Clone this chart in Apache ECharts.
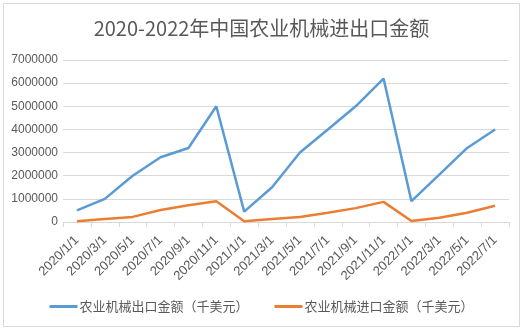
<!DOCTYPE html>
<html>
<head>
<meta charset="utf-8">
<script src="https://cdn.jsdelivr.net/npm/echarts@6/dist/echarts.min.js"></script>
<style>
html,body{margin:0;padding:0;background:#fff;}
#chart{width:523px;height:330px;}
</style>
</head>
<body>
<div id="chart"></div>
<script>
var categories = ['2020/1/1','2020/3/1','2020/5/1','2020/7/1','2020/9/1','2020/11/1',
  '2021/1/1','2021/3/1','2021/5/1','2021/7/1','2021/9/1','2021/11/1',
  '2022/1/1','2022/3/1','2022/5/1','2022/7/1'];
var exportValues = [500000,1000000,2000000,2800000,3200000,5000000,
  450000,1500000,3000000,4000000,5000000,6200000,
  900000,2050000,3200000,4000000];
var importValues = [30000,130000,220000,520000,720000,900000,
  30000,130000,220000,400000,600000,870000,
  40000,180000,400000,700000];
var seriesNames = ['农业机械出口金额（千美元）','农业机械进口金额（千美元）'];
var titleText = '2020-2022年中国农业机械进出口金额';

var chart = echarts.init(document.getElementById('chart'));
var textColor = '#595959';
var cjk = '"Noto Sans CJK SC", "Liberation Sans", sans-serif';
chart.setOption({
  animation: false,
  backgroundColor: '#fff',
  graphic: [{
    type: 'rect', shape: {x: 3.5, y: 3.5, width: 516, height: 323},
    style: {fill: 'none', stroke: '#d9d9d9', lineWidth: 1}, silent: true
  }],
  title: {
    text: titleText, left: 'center', top: 13,
    textStyle: {fontSize: 20, fontWeight: 'normal', color: textColor, fontFamily: cjk}
  },
  legend: {
    bottom: 12, left: 'center', itemGap: 26, itemWidth: 28, itemHeight: 3,
    icon: 'rect',
    textStyle: {fontSize: 13, color: textColor, fontFamily: cjk, padding: [0,0,0,-3]},
    data: seriesNames
  },
  grid: {left: 63, right: 14, top: 60, bottom: 108, containLabel: false},
  xAxis: {
    type: 'category', data: categories, boundaryGap: true,
    axisLine: {lineStyle: {color: '#d9d9d9'}},
    axisTick: {show: true, lineStyle: {color: '#d9d9d9'}, length: 5},
    axisLabel: {rotate: 45, interval: 0, fontSize: 13, color: textColor, margin: 16,
      fontFamily: '"Liberation Sans", sans-serif'}
  },
  yAxis: {
    type: 'value', min: 0, max: 7000000, interval: 1000000,
    axisLine: {show: false}, axisTick: {show: false},
    splitLine: {lineStyle: {color: '#d9d9d9'}},
    axisLabel: {fontSize: 12, color: textColor, margin: 5,
      formatter: function (v) { return String(v); },
      fontFamily: '"Liberation Sans", sans-serif'}
  },
  series: [
    {name: seriesNames[0], type: 'line', data: exportValues, showSymbol: false, symbol: 'none',
      lineStyle: {width: 2.5, color: '#5B9BD5'}, itemStyle: {color: '#5B9BD5'}},
    {name: seriesNames[1], type: 'line', data: importValues, showSymbol: false, symbol: 'none',
      lineStyle: {width: 2.5, color: '#ED7D31'}, itemStyle: {color: '#ED7D31'}}
  ]
});
</script>
</body>
</html>
